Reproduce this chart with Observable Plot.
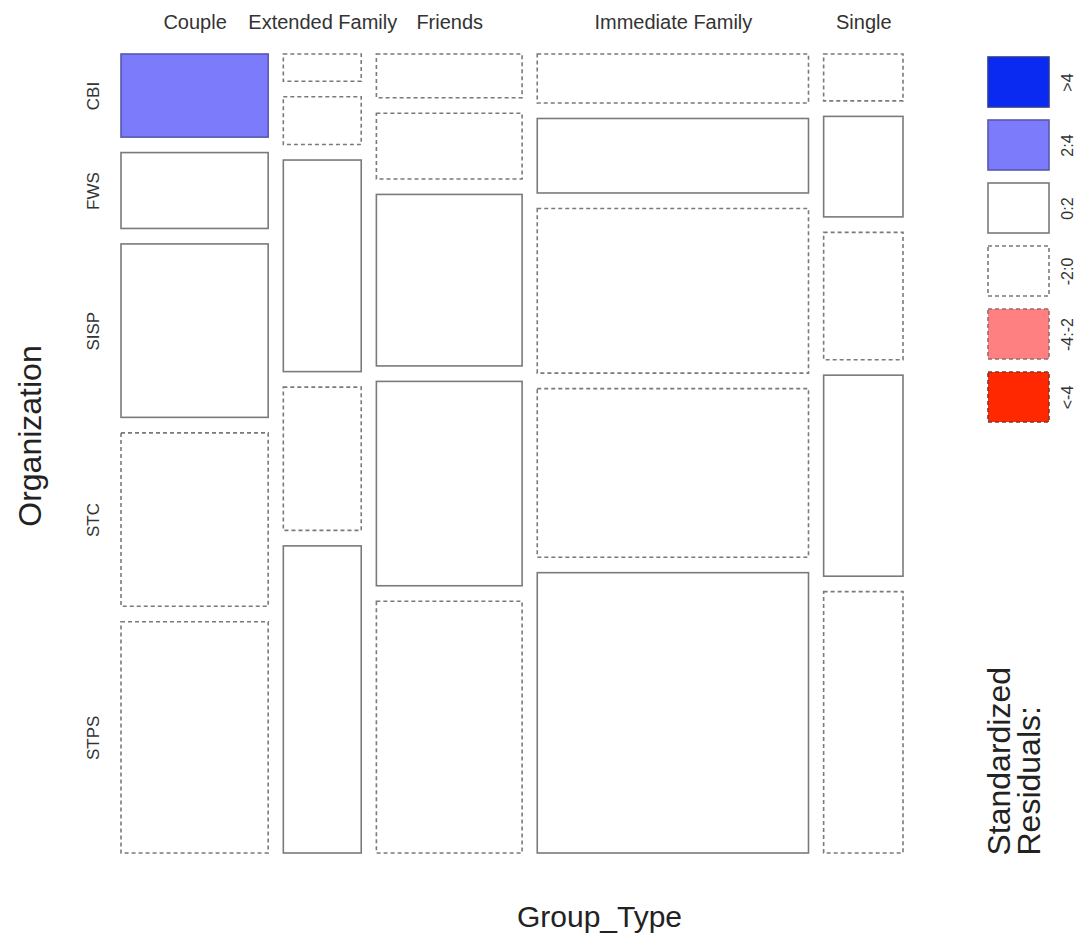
<!DOCTYPE html>
<html><head><meta charset="utf-8">
<script src="https://cdn.jsdelivr.net/npm/d3@7"></script>
<script src="https://cdn.jsdelivr.net/npm/@observablehq/plot@0.6"></script>
<style>
body{margin:0;background:#fff}
#wrap{position:relative;width:1084px;height:940px;background:#fff}
#wrap svg{position:absolute;background:transparent}
</style></head><body><div id="wrap"></div>
<script>
// ---- data ----
const groupTypes = ["Couple", "Extended Family", "Friends", "Immediate Family", "Single"];
const organizations = ["CBI", "FWS", "SISP", "STC", "STPS"];
// estimated counts, organization order (CBI, FWS, SISP, STC, STPS)
const countsCouple    = [23, 21, 48, 48, 64];
const countsExtended  = [4, 7, 31, 21, 45];
const countsFriends   = [12, 18, 47, 56, 69];
const countsImmediate = [25, 38, 84, 86, 143];
const countsSingle    = [7, 15, 19, 30, 39];
// standardized residual class of each cell, same order
const residCouple    = ["2:4", "0:2", "0:2", "-2:0", "-2:0"];
const residExtended  = ["-2:0", "-2:0", "0:2", "-2:0", "0:2"];
const residFriends   = ["-2:0", "-2:0", "0:2", "0:2", "-2:0"];
const residImmediate = ["-2:0", "0:2", "-2:0", "-2:0", "0:2"];
const residSingle    = ["-2:0", "0:2", "-2:0", "0:2", "-2:0"];
// legend
const legendClasses = [">4", "2:4", "0:2", "-2:0", "-4:-2", "<-4"];
const legendFills   = ["#0a2af2", "#7b7bfb", "#ffffff", "#ffffff", "#ff8080", "#ff2800"];
const legendStrokes = ["#2a3a9a", "#5858b0", "#7a7a7a", "#7a7a7a", "#9a6a6a", "#7a3a2a"];
const legendDashed  = [false, false, false, true, true, true];

// ---- layout (mosaic) ----
const allCounts = [countsCouple, countsExtended, countsFriends, countsImmediate, countsSingle];
const allResid = [residCouple, residExtended, residFriends, residImmediate, residSingle];
const gap = 0.021;
const N = d3.sum(allCounts.flat());
const cells = [];
const colCenters = [];
let xPos = 0;
groupTypes.forEach((gt, i) => {
  const col = allCounts[i];
  const tot = d3.sum(col);
  const w = tot / N;
  let yPos = 0;
  organizations.forEach((org, j) => {
    const h = col[j] / tot;
    cells.push({group: gt, org, count: col[j], resid: allResid[i][j],
      x1: xPos, x2: xPos + w, y1: yPos, y2: yPos + h});
    yPos += h + gap;
  });
  colCenters.push({label: gt, x: xPos + w / 2});
  xPos += w + gap;
});
const rowCenters = cells.filter(c => c.group === groupTypes[0]).map(c => ({label: c.org, y: (c.y1 + c.y2) / 2}));

const font = "'Liberation Sans', Arial, Helvetica, sans-serif";
const styleOf = cls => {
  const k = legendClasses.indexOf(cls);
  return {fill: legendFills[k], stroke: legendStrokes[k], dash: legendDashed[k] ? "4,3" : null};
};

const rectMarks = legendClasses.map(cls => {
  const s = styleOf(cls);
  const data = cells.filter(c => c.resid === cls);
  return Plot.rect(data, {x1: "x1", x2: "x2", y1: "y1", y2: "y2",
    fill: s.fill, stroke: s.stroke, strokeWidth: 1.6,
    ...(s.dash ? {strokeDasharray: s.dash} : {})});
});

const main = Plot.plot({
  width: 1084, height: 940,
  marginLeft: 121, marginRight: 181, marginTop: 54, marginBottom: 87,
  x: {domain: [0, 1 + 4 * gap], axis: null},
  y: {domain: [0, 1 + 4 * gap], reverse: true, axis: null},
  style: {fontFamily: font, background: "transparent"},
  marks: [
    ...rectMarks,
    Plot.text(colCenters, {x: "x", text: "label", frameAnchor: "top", dy: -32,
      textAnchor: "middle", lineAnchor: "middle", fontSize: 20, fill: "#333"}),
    Plot.text(rowCenters, {y: "y", text: "label", frameAnchor: "left", dx: -28, rotate: -90,
      textAnchor: "middle", lineAnchor: "middle", fontSize: 17, fill: "#333"}),
    Plot.text(["Organization"], {text: d => d, frameAnchor: "left", dx: -91, dy: -18, rotate: -90,
      textAnchor: "middle", lineAnchor: "middle", fontSize: 32, fill: "#222"}),
    Plot.text(["Group_Type"], {text: d => d, frameAnchor: "bottom", dx: 87, dy: 64,
      textAnchor: "middle", lineAnchor: "middle", fontSize: 30, fill: "#222"}),
    Plot.text(["Standardized\nResiduals:"], {text: d => d, frameAnchor: "bottom-right", dx: 85, dy: 2,
      rotate: -90, textAnchor: "start", lineAnchor: "top", fontSize: 32, lineHeight: 0.95, fill: "#222"})
  ]
});
main.style.left = "0px"; main.style.top = "0px";

const legendData = legendClasses.map((cls, k) => ({cls, box: "box"}));
const legendMarks = legendClasses.map(cls => {
  const s = styleOf(cls);
  return Plot.cell(legendData.filter(d => d.cls === cls), {x: "box", y: "cls", inset: 0,
    fill: s.fill, stroke: s.stroke, strokeWidth: 1.6, ...(s.dash ? {strokeDasharray: s.dash} : {})});
});
const legend = Plot.plot({
  width: 124, height: 400,
  marginTop: 14, marginBottom: 15, marginLeft: 28, marginRight: 35,
  x: {type: "band", domain: ["box"], padding: 0, axis: null},
  y: {type: "band", domain: legendClasses, paddingInner: 0.2, paddingOuter: 0, axis: null},
  style: {fontFamily: font, background: "transparent"},
  marks: [
    ...legendMarks,
    Plot.text(legendData, {x: "box", y: "cls", text: "cls", dx: 49, rotate: -90,
      textAnchor: "middle", lineAnchor: "middle", fontSize: 16, fill: "#333"})
  ]
});
legend.style.left = "960px"; legend.style.top = "40px";

const wrap = document.getElementById("wrap");
wrap.appendChild(main);
wrap.appendChild(legend);
</script></body></html>
